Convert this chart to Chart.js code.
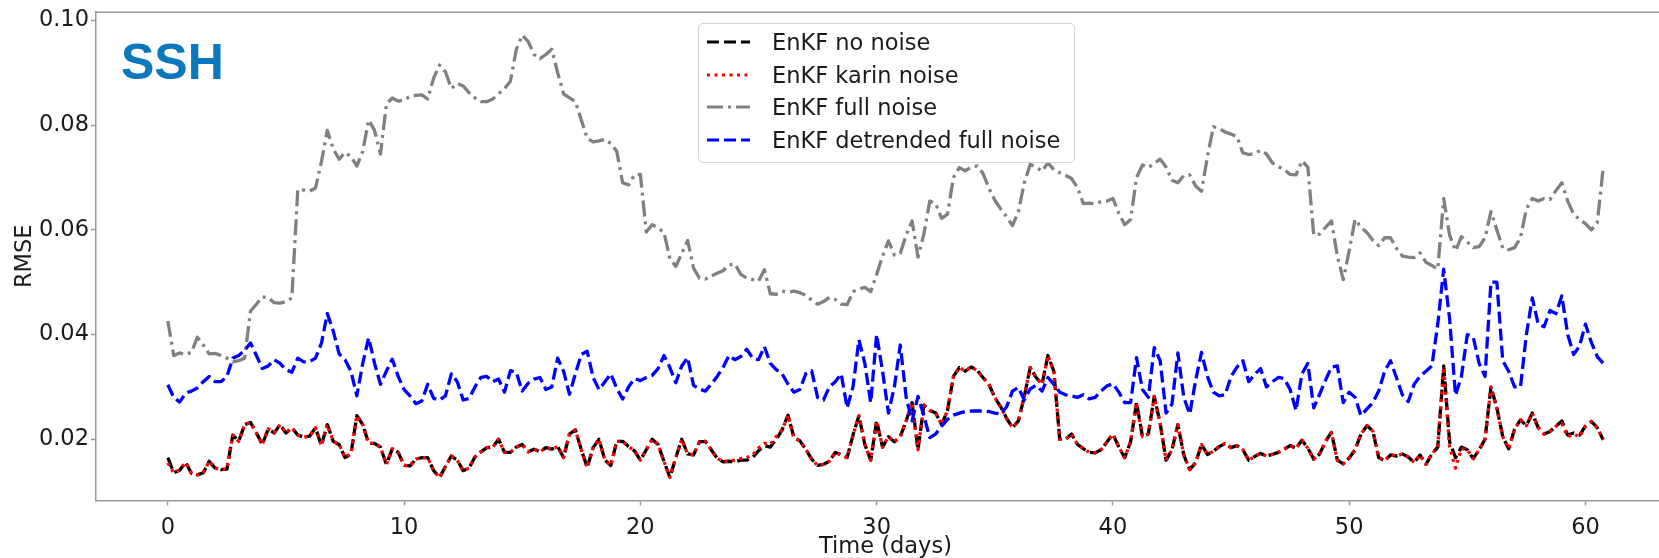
<!DOCTYPE html>
<html>
<head>
<meta charset="utf-8">
<title>SSH RMSE</title>
<script src="https://cdn.jsdelivr.net/npm/chart.js@4.4.0/dist/chart.umd.min.js"></script>
<style>
  html, body { margin: 0; padding: 0; background: #fff; overflow: hidden; }
  #wrap { position: relative; width: 1680px; height: 558px; }
  #panelLabel {
    position: absolute; left: 121px; top: 37px;
    font: bold 50px "Liberation Sans", Arial, sans-serif; line-height: 1;
    color: #0b77bd;
  }
  #legend {
    position: absolute; left: 698px; top: 23px; width: 377px; height: 140px;
    box-sizing: border-box; padding-top: 2px;
    border: 1px solid #d4d4d4; border-radius: 5px; background: rgba(255, 255, 255, 0.85);
  }
  #legend .row {
    height: 32.5px; display: flex; align-items: center; white-space: nowrap;
    font: 22.5px "DejaVu Sans", sans-serif; color: #1a1a1a;
  }
  #legend svg { margin-left: 8px; margin-right: 22px; }
</style>
</head>
<body>
<div id="wrap">
  <canvas id="rmseChart" width="1680" height="558"></canvas>
  <div id="panelLabel">SSH</div>
  <div id="legend"></div>
</div>
<script>
// sampling of the time axis (days), one value every 6 hours
const dayStep = 0.25;

// EnKF no noise (one line per day: +0h, +6h, +12h, +18h)
const noNoise = [
  0.0165, 0.0136, 0.0141, 0.0156,
  0.0135, 0.0132, 0.0136, 0.0158,
  0.0145, 0.0142, 0.0143, 0.0208,
  0.0196, 0.0228, 0.0232, 0.0212,
  0.0190, 0.0220, 0.0212, 0.0228,
  0.0212, 0.0222, 0.0208, 0.0204,
  0.0206, 0.0222, 0.0188, 0.0228,
  0.0196, 0.0190, 0.0165, 0.0172,
  0.0245, 0.0228, 0.0192, 0.0192,
  0.0185, 0.0152, 0.0182, 0.0175,
  0.0150, 0.0149, 0.0162, 0.0165,
  0.0165, 0.0140, 0.0127, 0.0148,
  0.0168, 0.0160, 0.0140, 0.0145,
  0.0166, 0.0176, 0.0184, 0.0185,
  0.0200, 0.0175, 0.0175, 0.0185,
  0.0190, 0.0176, 0.0181, 0.0176,
  0.0184, 0.0181, 0.0186, 0.0165,
  0.0210, 0.0218, 0.0180, 0.0146,
  0.0184, 0.0200, 0.0160, 0.0150,
  0.0196, 0.0196, 0.0186, 0.0178,
  0.0160, 0.0180, 0.0200, 0.0190,
  0.0158, 0.0127, 0.0165, 0.0200,
  0.0172, 0.0170, 0.0195, 0.0196,
  0.0180, 0.0164, 0.0157, 0.0158,
  0.0157, 0.0160, 0.0160, 0.0165,
  0.0178, 0.0188, 0.0185, 0.0200,
  0.0218, 0.0246, 0.0203, 0.0197,
  0.0181, 0.0162, 0.0150, 0.0152,
  0.0158, 0.0175, 0.0170, 0.0165,
  0.0208, 0.0245, 0.0190, 0.0160,
  0.0235, 0.0185, 0.0205, 0.0195,
  0.0205, 0.0235, 0.0270, 0.0180,
  0.0265, 0.0255, 0.0250, 0.0228,
  0.0255, 0.0320, 0.0337, 0.0330,
  0.0338, 0.0332, 0.0318, 0.0305,
  0.0280, 0.0262, 0.0240, 0.0222,
  0.0235, 0.0282, 0.0337, 0.0318,
  0.0305, 0.0360, 0.0330, 0.0200,
  0.0200, 0.0210, 0.0190, 0.0182,
  0.0175, 0.0174, 0.0180, 0.0195,
  0.0210, 0.0185, 0.0165, 0.0195,
  0.0270, 0.0205, 0.0210, 0.0282,
  0.0230, 0.0160, 0.0180, 0.0228,
  0.0170, 0.0142, 0.0155, 0.0190,
  0.0171, 0.0177, 0.0186, 0.0192,
  0.0184, 0.0188, 0.0180, 0.0160,
  0.0167, 0.0173, 0.0168, 0.0171,
  0.0175, 0.0181, 0.0188, 0.0183,
  0.0198, 0.0183, 0.0162, 0.0172,
  0.0196, 0.0213, 0.0160, 0.0153,
  0.0164, 0.0180, 0.0210, 0.0226,
  0.0216, 0.0165, 0.0159, 0.0170,
  0.0168, 0.0172, 0.0166, 0.0156,
  0.0170, 0.0152, 0.0172, 0.0185,
  0.0340, 0.0195, 0.0165, 0.0185,
  0.0180, 0.0163, 0.0180, 0.0200,
  0.0300, 0.0260, 0.0205, 0.0182,
  0.0219, 0.0237, 0.0226, 0.0250,
  0.0222, 0.0210, 0.0215, 0.0225,
  0.0235, 0.0208, 0.0212, 0.0208,
  0.0225, 0.0234, 0.0222, 0.0199
];

// EnKF karin noise - sits almost on top of the no-noise run
const karinNoise = [
  0.0155, 0.0136, 0.0141, 0.0156,
  0.0135, 0.0132, 0.0136, 0.0158,
  0.0145, 0.0142, 0.0143, 0.0208,
  0.0196, 0.0228, 0.0232, 0.0212,
  0.0190, 0.0220, 0.0212, 0.0228,
  0.0212, 0.0222, 0.0208, 0.0204,
  0.0206, 0.0222, 0.0188, 0.0228,
  0.0196, 0.0190, 0.0165, 0.0172,
  0.0245, 0.0228, 0.0192, 0.0192,
  0.0185, 0.0152, 0.0182, 0.0175,
  0.0150, 0.0149, 0.0162, 0.0165,
  0.0165, 0.0140, 0.0127, 0.0148,
  0.0168, 0.0160, 0.0140, 0.0145,
  0.0166, 0.0176, 0.0184, 0.0185,
  0.0200, 0.0175, 0.0175, 0.0185,
  0.0190, 0.0176, 0.0181, 0.0176,
  0.0184, 0.0181, 0.0186, 0.0165,
  0.0210, 0.0218, 0.0180, 0.0146,
  0.0184, 0.0200, 0.0160, 0.0150,
  0.0196, 0.0196, 0.0186, 0.0178,
  0.0160, 0.0180, 0.0200, 0.0190,
  0.0158, 0.0127, 0.0165, 0.0200,
  0.0172, 0.0170, 0.0195, 0.0196,
  0.0180, 0.0164, 0.0157, 0.0158,
  0.0160, 0.0163, 0.0165, 0.0170,
  0.0183, 0.0192, 0.0190, 0.0205,
  0.0218, 0.0246, 0.0203, 0.0197,
  0.0181, 0.0162, 0.0150, 0.0152,
  0.0158, 0.0175, 0.0170, 0.0165,
  0.0208, 0.0245, 0.0190, 0.0160,
  0.0235, 0.0185, 0.0205, 0.0195,
  0.0205, 0.0235, 0.0270, 0.0180,
  0.0265, 0.0255, 0.0250, 0.0228,
  0.0255, 0.0320, 0.0337, 0.0330,
  0.0338, 0.0332, 0.0318, 0.0305,
  0.0280, 0.0262, 0.0240, 0.0222,
  0.0235, 0.0282, 0.0337, 0.0318,
  0.0305, 0.0360, 0.0330, 0.0200,
  0.0200, 0.0210, 0.0190, 0.0182,
  0.0175, 0.0174, 0.0180, 0.0195,
  0.0210, 0.0185, 0.0165, 0.0195,
  0.0270, 0.0205, 0.0210, 0.0282,
  0.0230, 0.0160, 0.0180, 0.0228,
  0.0170, 0.0142, 0.0155, 0.0190,
  0.0171, 0.0177, 0.0186, 0.0192,
  0.0184, 0.0188, 0.0180, 0.0160,
  0.0167, 0.0173, 0.0168, 0.0171,
  0.0175, 0.0181, 0.0188, 0.0183,
  0.0198, 0.0183, 0.0162, 0.0172,
  0.0196, 0.0213, 0.0160, 0.0153,
  0.0164, 0.0180, 0.0210, 0.0226,
  0.0216, 0.0165, 0.0159, 0.0170,
  0.0168, 0.0172, 0.0166, 0.0156,
  0.0170, 0.0152, 0.0172, 0.0185,
  0.0338, 0.0185, 0.0145, 0.0182,
  0.0180, 0.0163, 0.0180, 0.0200,
  0.0300, 0.0260, 0.0205, 0.0182,
  0.0219, 0.0237, 0.0226, 0.0250,
  0.0222, 0.0210, 0.0215, 0.0225,
  0.0230, 0.0205, 0.0210, 0.0205,
  0.0225, 0.0234, 0.0222, 0.0199
];

// EnKF full noise
const fullNoise = [
  0.0426, 0.0360, 0.0365, 0.0362,
  0.0366, 0.0395, 0.0380, 0.0363,
  0.0364, 0.0360, 0.0355, 0.0348,
  0.0350, 0.0355, 0.0445, 0.0458,
  0.0472, 0.0470, 0.0461, 0.0460,
  0.0463, 0.0470, 0.0677, 0.0676,
  0.0674, 0.0680, 0.0730, 0.0790,
  0.0755, 0.0735, 0.0748, 0.0740,
  0.0722, 0.0750, 0.0810, 0.0790,
  0.0745, 0.0840, 0.0852, 0.0846,
  0.0848, 0.0855, 0.0857, 0.0858,
  0.0850, 0.0890, 0.0915, 0.0902,
  0.0870, 0.0880, 0.0875, 0.0862,
  0.0852, 0.0845, 0.0845, 0.0850,
  0.0860, 0.0870, 0.0884, 0.0945,
  0.0972, 0.0960, 0.0935, 0.0927,
  0.0935, 0.0945, 0.0900, 0.0860,
  0.0852, 0.0845, 0.0810, 0.0775,
  0.0768, 0.0770, 0.0773, 0.0765,
  0.0750, 0.0690, 0.0686, 0.0705,
  0.0706, 0.0596, 0.0610, 0.0604,
  0.0595, 0.0545, 0.0530, 0.0555,
  0.0580, 0.0527, 0.0508, 0.0506,
  0.0512, 0.0517, 0.0522, 0.0533,
  0.0535, 0.0515, 0.0508, 0.0505,
  0.0502, 0.0524, 0.0478, 0.0477,
  0.0483, 0.0481, 0.0483, 0.0480,
  0.0475, 0.0466, 0.0458, 0.0463,
  0.0471, 0.0467, 0.0458, 0.0457,
  0.0482, 0.0487, 0.0490, 0.0482,
  0.0515, 0.0550, 0.0579, 0.0552,
  0.0555, 0.0590, 0.0617, 0.0548,
  0.0592, 0.0655, 0.0650, 0.0622,
  0.0630, 0.0700, 0.0719, 0.0713,
  0.0720, 0.0722, 0.0708, 0.0680,
  0.0657, 0.0640, 0.0625, 0.0608,
  0.0635, 0.0690, 0.0725, 0.0720,
  0.0712, 0.0728, 0.0715, 0.0709,
  0.0704, 0.0698, 0.0681, 0.0650,
  0.0651, 0.0650, 0.0654, 0.0655,
  0.0660, 0.0632, 0.0610, 0.0620,
  0.0700, 0.0724, 0.0719, 0.0727,
  0.0735, 0.0720, 0.0695, 0.0690,
  0.0704, 0.0705, 0.0684, 0.0674,
  0.0740, 0.0797, 0.0794, 0.0787,
  0.0783, 0.0778, 0.0747, 0.0744,
  0.0746, 0.0752, 0.0745, 0.0728,
  0.0721, 0.0715, 0.0706, 0.0705,
  0.0732, 0.0720, 0.0590, 0.0592,
  0.0605, 0.0617, 0.0550, 0.0505,
  0.0560, 0.0620, 0.0605, 0.0595,
  0.0580, 0.0570, 0.0585, 0.0585,
  0.0565, 0.0550, 0.0548, 0.0547,
  0.0556, 0.0538, 0.0532, 0.0525,
  0.0660, 0.0590, 0.0560, 0.0587,
  0.0577, 0.0566, 0.0568, 0.0585,
  0.0635, 0.0600, 0.0565, 0.0562,
  0.0566, 0.0585, 0.0640, 0.0660,
  0.0655, 0.0660, 0.0658, 0.0675,
  0.0690, 0.0655, 0.0630, 0.0620,
  0.0612, 0.0600, 0.0613, 0.0718
];

// EnKF detrended full noise
const detrendedNoise = [
  0.0304, 0.0280, 0.0271, 0.0288,
  0.0292, 0.0298, 0.0310, 0.0320,
  0.0310, 0.0310, 0.0320, 0.0355,
  0.0360, 0.0370, 0.0384, 0.0360,
  0.0335, 0.0340, 0.0352, 0.0345,
  0.0333, 0.0328, 0.0355, 0.0348,
  0.0348, 0.0355, 0.0383, 0.0440,
  0.0407, 0.0363, 0.0352, 0.0330,
  0.0283, 0.0345, 0.0394, 0.0345,
  0.0305, 0.0330, 0.0353, 0.0320,
  0.0295, 0.0283, 0.0268, 0.0273,
  0.0305, 0.0278, 0.0275, 0.0283,
  0.0325, 0.0310, 0.0275, 0.0278,
  0.0300, 0.0318, 0.0320, 0.0310,
  0.0315, 0.0290, 0.0331, 0.0328,
  0.0292, 0.0307, 0.0315, 0.0318,
  0.0295, 0.0300, 0.0355, 0.0330,
  0.0286, 0.0325, 0.0362, 0.0368,
  0.0318, 0.0295, 0.0310, 0.0325,
  0.0297, 0.0277, 0.0300, 0.0316,
  0.0312, 0.0318, 0.0322, 0.0335,
  0.0360, 0.0337, 0.0308, 0.0340,
  0.0356, 0.0303, 0.0296, 0.0292,
  0.0305, 0.0320, 0.0337, 0.0360,
  0.0352, 0.0358, 0.0372, 0.0355,
  0.0352, 0.0377, 0.0345, 0.0333,
  0.0325, 0.0305, 0.0290, 0.0295,
  0.0325, 0.0331, 0.0280, 0.0275,
  0.0300, 0.0310, 0.0325, 0.0260,
  0.0300, 0.0390, 0.0345, 0.0270,
  0.0400, 0.0330, 0.0250, 0.0300,
  0.0380, 0.0280, 0.0235, 0.0282,
  0.0245, 0.0203, 0.0210, 0.0225,
  0.0238, 0.0246, 0.0250, 0.0253,
  0.0254, 0.0254, 0.0254, 0.0253,
  0.0250, 0.0248, 0.0262, 0.0292,
  0.0299, 0.0275, 0.0296, 0.0303,
  0.0292, 0.0318, 0.0305, 0.0290,
  0.0285, 0.0283, 0.0280, 0.0285,
  0.0277, 0.0280, 0.0292, 0.0302,
  0.0306, 0.0290, 0.0270, 0.0270,
  0.0356, 0.0295, 0.0280, 0.0375,
  0.0350, 0.0250, 0.0267, 0.0365,
  0.0280, 0.0248, 0.0312, 0.0366,
  0.0320, 0.0290, 0.0283, 0.0285,
  0.0320, 0.0338, 0.0350, 0.0310,
  0.0324, 0.0335, 0.0300, 0.0310,
  0.0318, 0.0316, 0.0295, 0.0255,
  0.0325, 0.0345, 0.0260, 0.0286,
  0.0313, 0.0338, 0.0340, 0.0270,
  0.0290, 0.0280, 0.0245, 0.0258,
  0.0270, 0.0292, 0.0330, 0.0350,
  0.0318, 0.0285, 0.0272, 0.0305,
  0.0320, 0.0330, 0.0340, 0.0420,
  0.0525, 0.0430, 0.0284, 0.0320,
  0.0400, 0.0395, 0.0345, 0.0320,
  0.0500, 0.0500, 0.0350, 0.0330,
  0.0300, 0.0300, 0.0400, 0.0470,
  0.0420, 0.0415, 0.0446, 0.0440,
  0.0474, 0.0400, 0.0362, 0.0378,
  0.0420, 0.0385, 0.0358, 0.0345
];

const xTicks = [0, 10, 20, 30, 40, 50, 60];
const yTicks = [0.02, 0.04, 0.06, 0.08, 0.10];
const seriesNames = ['EnKF no noise', 'EnKF karin noise', 'EnKF full noise', 'EnKF detrended full noise'];

const days = noNoise.map((_, i) => i * dayStep);
const toPoints = (vals) => vals.map((v, i) => ({ x: days[i], y: v }));

const axisGray = '#9a9a9a';
const textColor = '#1a1a1a';

// matplotlib-like line styles: '--', ':', '-.', '--'
const styles = [
  { color: '#000000', dash: [12, 5], order: 3 },
  { color: '#ff0000', dash: [3, 4.5], order: 2 },
  { color: '#808080', dash: [16, 5, 3, 5], order: 1 },
  { color: '#0000ff', dash: [12, 5], order: 0 }
];
const values = [noNoise, karinNoise, fullNoise, detrendedNoise];

// top (and right) frame lines, matplotlib draws a full box
const frameLines = {
  id: 'frameLines',
  afterDraw(chart) {
    const { ctx, chartArea } = chart;
    ctx.save();
    ctx.strokeStyle = axisGray;
    ctx.lineWidth = 1.5;
    ctx.beginPath();
    ctx.moveTo(chartArea.left, chartArea.top);
    ctx.lineTo(chartArea.right, chartArea.top);
    ctx.lineTo(chartArea.right, chartArea.bottom);
    ctx.stroke();
    ctx.restore();
  }
};

const chart = new Chart(document.getElementById('rmseChart'), {
  type: 'line',
  data: {
    datasets: seriesNames.map((name, i) => ({
      label: name,
      data: toPoints(values[i]),
      borderColor: styles[i].color,
      backgroundColor: styles[i].color,
      borderDash: styles[i].dash,
      borderWidth: 3.3,
      order: styles[i].order,
      fill: false
    }))
  },
  options: {
    responsive: false,
    animation: false,
    layout: { autoPadding: false, padding: { top: 10.6, right: 5, left: 0, bottom: 0 } },
    elements: {
      point: { radius: 0, hoverRadius: 0 },
      line: { tension: 0, borderJoinStyle: 'round', borderCapStyle: 'butt' }
    },
    plugins: {
      legend: { display: false },
      tooltip: { enabled: false }
    },
    scales: {
      x: {
        type: 'linear',
        min: -3.04,
        max: 63.79,
        afterFit: (scale) => { scale.height = 57.5; },
        afterBuildTicks: (scale) => { scale.ticks = xTicks.map(v => ({ value: v })); },
        grid: { drawOnChartArea: false, drawTicks: true, tickLength: 5, tickWidth: 1.5, tickColor: axisGray, color: axisGray },
        border: { display: true, color: axisGray, width: 1.5 },
        ticks: { font: { family: 'DejaVu Sans', size: 22.5 }, color: textColor, padding: 9, maxRotation: 0, callback: v => String(v) },
        title: {
          display: true, text: 'Time (days)', color: textColor,
          font: { family: 'DejaVu Sans', size: 22.5, lineHeight: 1 },
          padding: { top: 0, bottom: 0 }
        }
      },
      y: {
        type: 'linear',
        min: 0.0083,
        max: 0.1016,
        afterFit: (scale) => { scale.width = 96; },
        afterBuildTicks: (scale) => { scale.ticks = yTicks.map(v => ({ value: v })); },
        grid: { drawOnChartArea: false, drawTicks: true, tickLength: 5, tickWidth: 1.5, tickColor: axisGray, color: axisGray },
        border: { display: true, color: axisGray, width: 1.5 },
        // small line height keeps the top label from pushing the plot area down
        ticks: { font: { family: 'DejaVu Sans', size: 22.5, lineHeight: 0.9 }, color: textColor, padding: 2, callback: v => v.toFixed(2) },
        title: {
          display: true, text: 'RMSE', color: textColor,
          font: { family: 'DejaVu Sans', size: 22.5, lineHeight: 1.2 },
          padding: { top: 12, bottom: 0 }
        }
      }
    }
  },
  plugins: [frameLines]
});

// legend box drawn like the matplotlib one, built from the chart's datasets
const legendBox = document.getElementById('legend');
chart.data.datasets.forEach((ds) => {
  const row = document.createElement('div');
  row.className = 'row';
  const dash = ds.borderDash.join(' ');
  row.innerHTML =
    '<svg width="43" height="10"><line x1="0" y1="5" x2="43" y2="5" stroke="' + ds.borderColor +
    '" stroke-width="3" stroke-dasharray="' + dash + '"/></svg><span>' + ds.label + '</span>';
  legendBox.appendChild(row);
});
</script>
</body>
</html>
